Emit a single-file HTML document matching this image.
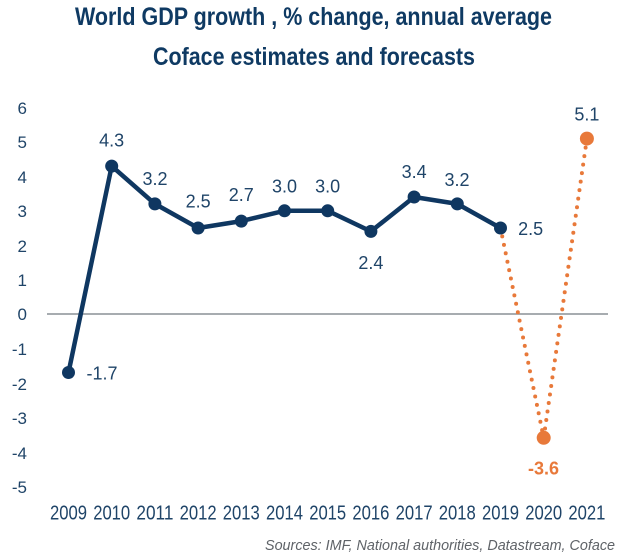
<!DOCTYPE html>
<html>
<head>
<meta charset="utf-8">
<style>
  html,body{margin:0;padding:0;background:#ffffff;}
  svg{display:block;}
  .t{font-family:"Liberation Sans",Arial,sans-serif;}
</style>
</head>
<body>
<svg width="643" height="553" viewBox="0 0 643 553" xmlns="http://www.w3.org/2000/svg">
  <rect width="643" height="553" fill="#ffffff"/>
  <!-- Title -->
  <text class="t" x="75" y="25" font-size="25" font-weight="bold" fill="#0f3a63" textLength="477" lengthAdjust="spacingAndGlyphs">World GDP growth , % change, annual average</text>
  <text class="t" x="153" y="65" font-size="25" font-weight="bold" fill="#0f3a63" textLength="322" lengthAdjust="spacingAndGlyphs">Coface estimates and forecasts</text>

  <!-- Y axis labels -->
  <g class="t" font-size="17" fill="#1f4468" text-anchor="end">
    <text x="27" y="114">6</text>
    <text x="27" y="148">5</text>
    <text x="27" y="183">4</text>
    <text x="27" y="217">3</text>
    <text x="27" y="252">2</text>
    <text x="27" y="286">1</text>
    <text x="27" y="320">0</text>
    <text x="27" y="355">-1</text>
    <text x="27" y="390">-2</text>
    <text x="27" y="424">-3</text>
    <text x="27" y="459">-4</text>
    <text x="27" y="493">-5</text>
  </g>

  <!-- zero line -->
  <line x1="47" y1="314" x2="608" y2="314" stroke="#8a9096" stroke-width="1.5"/>

  <!-- Orange dotted forecast -->
  <polyline points="500.5,228 543.7,437.8 586.9,138.6" fill="none" stroke="#e8793a" stroke-width="4" stroke-dasharray="0 8.6" stroke-linecap="round" stroke-linejoin="round"/>
  <circle cx="543.7" cy="437.8" r="7" fill="#e8793a"/>
  <circle cx="586.9" cy="138.6" r="7" fill="#e8793a"/>

  <!-- Navy series -->
  <polyline points="68.5,372.5 111.7,166.1 154.9,203.9 198.1,228 241.3,221.1 284.5,210.8 327.7,210.8 370.9,231.4 414.1,197 457.3,203.9 500.5,228" fill="none" stroke="#0f3761" stroke-width="4.5" stroke-linejoin="round" stroke-linecap="round"/>
  <g fill="#0f3761">
    <circle cx="68.5" cy="372.5" r="6.5"/>
    <circle cx="111.7" cy="166.1" r="6.5"/>
    <circle cx="154.9" cy="203.9" r="6.5"/>
    <circle cx="198.1" cy="228" r="6.5"/>
    <circle cx="241.3" cy="221.1" r="6.5"/>
    <circle cx="284.5" cy="210.8" r="6.5"/>
    <circle cx="327.7" cy="210.8" r="6.5"/>
    <circle cx="370.9" cy="231.4" r="6.5"/>
    <circle cx="414.1" cy="197" r="6.5"/>
    <circle cx="457.3" cy="203.9" r="6.5"/>
    <circle cx="500.5" cy="228" r="6.5"/>
  </g>

  <!-- Data labels -->
  <g class="t" font-size="18" fill="#1f4468" text-anchor="middle">
    <text x="102" y="379.5">-1.7</text>
    <text x="111.7" y="146.5">4.3</text>
    <text x="155" y="184.8">3.2</text>
    <text x="198.1" y="207.5">2.5</text>
    <text x="241.3" y="200.8">2.7</text>
    <text x="284.5" y="192.5">3.0</text>
    <text x="327.7" y="192.5">3.0</text>
    <text x="370.9" y="269">2.4</text>
    <text x="414.1" y="178">3.4</text>
    <text x="457" y="185.8">3.2</text>
    <text x="530.7" y="234.8">2.5</text>
    <text x="586.9" y="120.5">5.1</text>
  </g>
  <text class="t" x="543.5" y="474.5" font-size="18" font-weight="bold" fill="#e8793a" text-anchor="middle">-3.6</text>

  <!-- Year labels -->
  <g class="t" font-size="20" fill="#1f4468" text-anchor="middle">
    <text x="68.5" y="519.5" textLength="37" lengthAdjust="spacingAndGlyphs">2009</text>
    <text x="111.7" y="519.5" textLength="37" lengthAdjust="spacingAndGlyphs">2010</text>
    <text x="154.9" y="519.5" textLength="37" lengthAdjust="spacingAndGlyphs">2011</text>
    <text x="198.1" y="519.5" textLength="37" lengthAdjust="spacingAndGlyphs">2012</text>
    <text x="241.3" y="519.5" textLength="37" lengthAdjust="spacingAndGlyphs">2013</text>
    <text x="284.5" y="519.5" textLength="37" lengthAdjust="spacingAndGlyphs">2014</text>
    <text x="327.7" y="519.5" textLength="37" lengthAdjust="spacingAndGlyphs">2015</text>
    <text x="370.9" y="519.5" textLength="37" lengthAdjust="spacingAndGlyphs">2016</text>
    <text x="414.1" y="519.5" textLength="37" lengthAdjust="spacingAndGlyphs">2017</text>
    <text x="457.3" y="519.5" textLength="37" lengthAdjust="spacingAndGlyphs">2018</text>
    <text x="500.5" y="519.5" textLength="37" lengthAdjust="spacingAndGlyphs">2019</text>
    <text x="543.7" y="519.5" textLength="37" lengthAdjust="spacingAndGlyphs">2020</text>
    <text x="586.9" y="519.5" textLength="37" lengthAdjust="spacingAndGlyphs">2021</text>
  </g>

  <!-- Source -->
  <text class="t" x="265" y="550" font-size="15" font-style="italic" fill="#5f6368" textLength="350" lengthAdjust="spacingAndGlyphs">Sources: IMF, National authorities, Datastream, Coface</text>
</svg>
</body>
</html>
